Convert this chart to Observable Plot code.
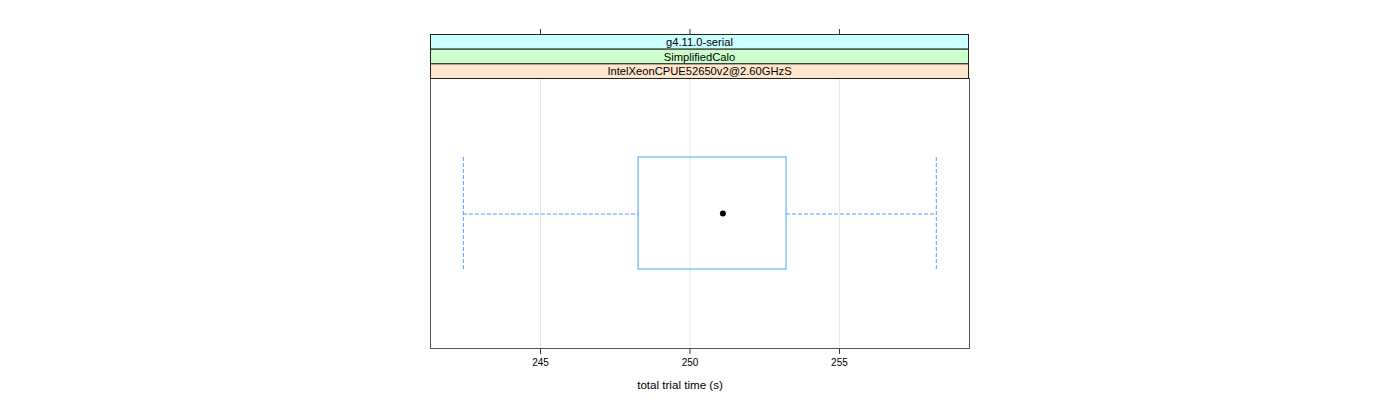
<!DOCTYPE html>
<html>
<head>
<meta charset="utf-8">
<script src="https://cdn.jsdelivr.net/npm/d3@7"></script>
<script src="https://cdn.jsdelivr.net/npm/@observablehq/plot@0.6"></script>
<style>
  html, body { margin: 0; padding: 0; background: #fff; }
  #chart { position: relative; width: 1400px; height: 400px; }
  svg { font-family: "Liberation Sans", Arial, sans-serif; }
</style>
</head>
<body>
<div id="chart"></div>
<script>
// ---- data ----
const category = ["IntelXeonCPUE52650v2@2.60GHzS"];
const lowerWhisker = [242.42];
const q1 = [248.28];
const median = [251.1];
const q3 = [253.23];
const upperWhisker = [258.24];
const xTicks = [245, 250, 255];
const xDomain = [241.32, 259.35];
const stripLabels = ["g4.11.0-serial", "SimplifiedCalo", "IntelXeonCPUE52650v2@2.60GHzS"];
const stripColors = ["#ccffff", "#ccffcc", "#ffe5cc"];
const xLabel = "total trial time (s)";

const rows = category.map((c, i) => ({
  cat: c, lo: lowerWhisker[i], q1: q1[i], med: median[i], q3: q3[i], hi: upperWhisker[i]
}));

const boxColor = "#4da3ff";
const W = 1400, H = 400;
const mL = 430, mR = 431, mT = 78, mB = 52;
const panelTop = 34;

const plot = Plot.plot({
  width: W, height: H,
  marginLeft: mL, marginRight: mR, marginTop: mT, marginBottom: mB,
  style: { fontFamily: "Liberation Sans, Arial, sans-serif", fontSize: "10px", background: "#fff" },
  x: { domain: xDomain, ticks: xTicks, label: null },
  y: { type: "band", domain: category, padding: 0.4136, axis: null },
  marks: [
    Plot.gridX(xTicks, { stroke: "#e6e6e6", strokeOpacity: 1 }),
    Plot.ruleY(rows, { y: "cat", x1: "lo", x2: "q1", stroke: boxColor, strokeDasharray: "4,2", dy: 0.5 }),
    Plot.ruleY(rows, { y: "cat", x1: "q3", x2: "hi", stroke: boxColor, strokeDasharray: "4,2", dy: 0.5 }),
    Plot.tickX(rows, { x: "lo", y: "cat", stroke: boxColor, strokeDasharray: "4,2" }),
    Plot.tickX(rows, { x: "hi", y: "cat", stroke: boxColor, strokeDasharray: "4,2" }),
    Plot.barX(rows, { x1: "q1", x2: "q3", y: "cat", fill: "none", stroke: boxColor }),
    Plot.dot(rows, { x: "med", y: "cat", r: 3, fill: "#000", stroke: "none" }),
    Plot.axisX({ anchor: "bottom", ticks: xTicks, tickSize: 6, tickPadding: 4, fontSize: 10, label: null, stroke: "#333" }),
    Plot.axisX({ anchor: "top", ticks: xTicks, tickSize: 6, dy: -(mT - panelTop), tickFormat: () => "", label: null, stroke: "#333" }),
    Plot.frame({ stroke: "#555" })
  ]
});
document.getElementById("chart").appendChild(plot);

// strips and axis title
const svg = d3.select(plot);
const x0 = mL, x1 = W - mR;
const stripH = (mT - panelTop) / stripLabels.length;
const g = svg.append("g");
stripLabels.forEach((lab, i) => {
  const y0 = panelTop + i * stripH;
  g.append("rect").attr("x", x0 + 0.5).attr("y", y0 + 0.5).attr("width", x1 - x0 - 1).attr("height", stripH)
    .attr("fill", stripColors[i]).attr("stroke", "#222").attr("stroke-width", 1);
  g.append("text").attr("x", (x0 + x1) / 2).attr("y", y0 + stripH / 2 + 0.5)
    .attr("text-anchor", "middle").attr("dominant-baseline", "central")
    .attr("font-size", 11.2).attr("fill", "#000").text(lab);
});
svg.append("text").attr("x", 680).attr("y", 384).attr("text-anchor", "middle")
  .attr("dominant-baseline", "central").attr("font-size", 11.6).attr("fill", "#000").text(xLabel);
</script>
</body>
</html>
